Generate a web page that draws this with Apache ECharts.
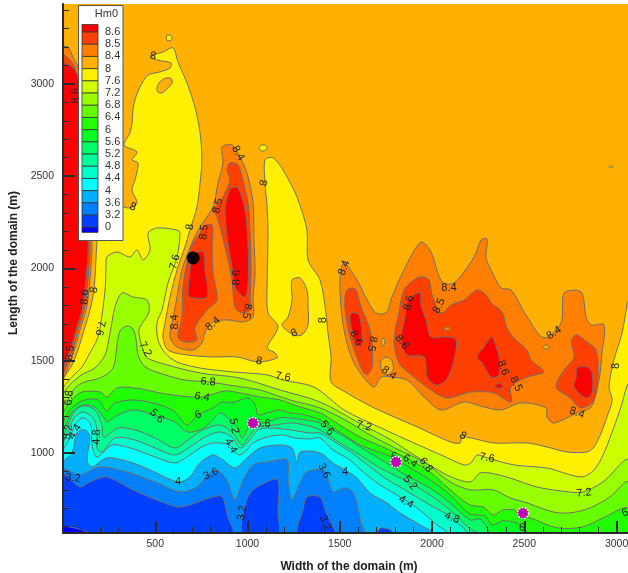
<!DOCTYPE html>
<html><head><meta charset="utf-8">
<style>html,body{margin:0;padding:0;background:#fff}#c{width:628px;height:573px}</style>
<script src="https://cdn.jsdelivr.net/npm/echarts@6/dist/echarts.min.js"></script>
</head><body><div id="c"></div>
<script>
// Value classes, top to bottom of the colour key
const keyTitle = 'Hm0';
const keyLabels = ['8.6','8.5','8.4','8','7.6','7.2','6.8','6.4','6','5.6','5.2','4.8','4.4','4','3.6','3.2','0'];
const keyColors = ['#FF0000','#FF4000','#FF7F00','#FFB000','#FFF000','#CCFF00','#99FF00','#66FF00','#22FF00','#00FF22','#00FF66','#00FF99','#00FFCC','#00FFFF','#00B0FF','#0080FF','#0040FF','#0000FF'];
const xTicks = [500,1000,1500,2000,2500,3000];
const yTicks = [1000,1500,2000,2500,3000];
const stations = [[1030,1162],[1805,951],[2493,674]];
const blackPoint = [[705,2057]];

// Contours in domain metres [width, length]
const below8 = [[3062,1813],[3030,1650],[2986,1504],[2959,1357],[2976,1287],[2948,1195],[2916,1108],[2878,1032],[2840,1005],[2732,1005],[2623,1032],[2515,1054],[2336,1054],[2211,1081],[2163,1086],[2152,1054],[2119,1054],[2049,1081],[1919,1141],[1794,1195],[1686,1244],[1604,1287],[1539,1325],[1453,1385],[1453,1520],[1436,1650],[1425,1759],[1393,1937],[1328,2046],[1322,2208],[1268,2387],[1192,2534],[1138,2599],[1095,2588],[1095,2463],[1106,2333],[1111,2192],[1106,1899],[1111,1759],[1165,1683],[1106,1569],[1149,1542],[1160,1515],[1057,1493],[943,1520],[813,1520],[672,1531],[569,1558],[542,1628],[553,1704],[580,1845],[618,1992],[661,2116],[688,2208],[726,2333],[743,2463],[753,2588],[743,2734],[715,2875],[672,3005],[623,3119],[596,3195],[542,3173],[482,3151],[509,3130],[585,3114],[580,3086],[526,3065],[461,3048],[417,2983],[390,2913],[379,2859],[374,2788],[363,2734],[331,2669],[401,2631],[374,2588],[407,2572],[390,2479],[374,2425],[401,2355],[363,2328],[325,2333],[255,2344],[201,2290],[184,2138],[168,1883],[146,1775],[114,1666],[81,1558],[49,1477],[0,1385],[0,566],[3062,566]];
const islandA8 = [[559,3249],[564,3262],[575,3265],[586,3262],[591,3249],[586,3236],[575,3233],[564,3236]];
const islandB8 = [[1062,2653],[1073,2667],[1090,2670],[1106,2660],[1100,2642],[1084,2636],[1068,2642]];
const islandC8 = [[2958,2550],[2970,2556],[2982,2550],[2970,2545]];
const holeA8 = [[509,2975],[520,3005],[553,3030],[585,3030],[591,3005],[565,2975],[535,2951],[515,2955]];
const holeB8 = [[1241,1937],[1285,1948],[1322,1883],[1328,1791],[1328,1694],[1295,1640],[1247,1640],[1187,1694],[1220,1737],[1241,1829]];
const below76 = [[0,1341],[49,1412],[103,1466],[146,1542],[184,1612],[201,1677],[228,1883],[233,2008],[238,2062],[293,2089],[363,2062],[401,2100],[434,2046],[472,2100],[461,2192],[509,2219],[618,2208],[634,2192],[618,2062],[569,1921],[537,1775],[509,1704],[515,1612],[553,1542],[618,1493],[743,1460],[921,1439],[1106,1423],[1192,1395],[1360,1357],[1523,1233],[1724,1135],[1902,1054],[2049,989],[2173,935],[2211,946],[2244,989],[2298,973],[2444,935],[2623,918],[2808,870],[2878,908],[2932,1000],[2986,1141],[3024,1249],[3062,1368],[3062,566],[0,566]];
const below72 = [[0,1309],[92,1417],[173,1460],[228,1531],[255,1650],[282,1791],[320,1867],[379,1845],[455,1829],[466,1764],[412,1666],[434,1558],[455,1515],[564,1477],[743,1433],[959,1406],[1176,1341],[1393,1276],[1626,1151],[1778,1070],[1902,989],[2081,880],[2206,843],[2260,891],[2314,891],[2423,864],[2569,815],[2748,788],[2818,788],[2927,843],[3062,962],[3062,566],[0,566]];
const below68 = [[0,1244],[33,1298],[65,1352],[119,1385],[201,1406],[271,1460],[293,1585],[309,1661],[347,1688],[379,1672],[396,1612],[407,1531],[445,1466],[553,1423],[661,1395],[786,1385],[932,1363],[1068,1341],[1230,1287],[1393,1244],[1528,1179],[1664,1097],[1799,1027],[1962,946],[2098,843],[2206,800],[2331,800],[2423,756],[2515,729],[2656,680],[2748,675],[2856,702],[2965,762],[3062,843],[3062,566],[0,566]];
const below64 = [[0,1206],[49,1287],[103,1330],[201,1330],[238,1303],[293,1352],[390,1352],[526,1325],[634,1309],[753,1303],[878,1336],[959,1325],[1068,1303],[1176,1287],[1285,1249],[1393,1217],[1501,1151],[1610,1086],[1745,1027],[1881,962],[1989,897],[2098,800],[2206,718],[2277,707],[2331,664],[2385,691],[2450,691],[2466,664],[2531,648],[2678,594],[2818,599],[2927,648],[3062,702],[3062,566],[0,566]];
const below60 = [[0,1151],[49,1244],[119,1287],[190,1287],[238,1227],[282,1271],[390,1287],[526,1260],[607,1222],[672,1151],[732,1206],[813,1244],[862,1276],[916,1271],[1003,1298],[1041,1260],[1057,1206],[1106,1217],[1176,1233],[1230,1217],[1312,1206],[1393,1179],[1501,1114],[1610,1043],[1783,978],[1881,919],[1989,854],[2098,772],[2206,669],[2287,658],[2325,610],[2385,632],[2461,621],[2488,599],[2515,566],[0,566]];
const below56 = [[0,1108],[27,1179],[60,1233],[114,1260],[173,1249],[222,1190],[238,1168],[298,1206],[390,1233],[509,1200],[607,1168],[672,1114],[743,1125],[797,1163],[851,1217],[894,1190],[943,1141],[970,1081],[1003,1141],[1014,1195],[1057,1168],[1095,1163],[1176,1190],[1230,1190],[1312,1179],[1393,1163],[1431,1141],[1528,1086],[1637,1016],[1745,951],[1854,881],[1989,810],[2098,729],[2206,637],[2260,642],[2298,593],[2304,566],[0,566]];
const below52 = [[0,1070],[27,1151],[60,1222],[108,1255],[173,1233],[211,1151],[222,1086],[298,1135],[390,1125],[499,1081],[607,1027],[678,1070],[759,1125],[851,1151],[921,1108],[970,1043],[1014,1097],[1057,1141],[1149,1151],[1230,1163],[1312,1151],[1393,1125],[1501,1054],[1610,989],[1718,919],[1881,838],[1989,772],[2098,691],[2206,588],[2244,566],[0,566]];
const below48 = [[0,1043],[27,1114],[60,1190],[108,1222],[163,1190],[184,1125],[184,1027],[211,1005],[282,1081],[390,1070],[499,1027],[607,989],[688,1032],[770,1086],[851,1114],[916,1086],[959,1027],[1003,1059],[1057,1125],[1122,1135],[1230,1125],[1339,1108],[1393,1108],[1474,1059],[1566,1000],[1637,946],[1745,864],[1854,799],[1989,718],[2108,648],[2179,566],[0,566]];
const below44 = [[0,1005],[38,1081],[65,1151],[108,1190],[152,1151],[157,1043],[184,978],[266,1043],[363,1027],[472,989],[607,946],[688,989],[743,1027],[813,1054],[905,1043],[948,989],[986,1005],[1030,1054],[1106,1086],[1192,1097],[1257,1081],[1339,1076],[1393,1081],[1463,1016],[1555,962],[1626,897],[1718,827],[1810,772],[1919,702],[2027,610],[2081,566],[0,566]];
const below40 = [[0,946],[49,1000],[76,1108],[119,1125],[146,1086],[130,962],[157,924],[238,973],[363,951],[472,908],[623,843],[688,870],[743,946],[813,989],[867,962],[932,919],[997,973],[1068,1027],[1176,1043],[1241,1027],[1268,946],[1285,1005],[1393,1000],[1463,946],[1528,908],[1593,864],[1664,783],[1756,729],[1827,675],[1935,610],[2005,566],[0,566]];
const below36 = [[0,908],[92,881],[201,924],[347,897],[509,838],[634,789],[726,816],[797,892],[851,897],[894,838],[932,745],[970,838],[1030,935],[1106,951],[1214,962],[1220,854],[1241,745],[1285,838],[1322,897],[1415,903],[1463,789],[1523,810],[1566,794],[1593,729],[1615,621],[1631,566],[0,566]];
const below32West = [[0,881],[92,816],[146,843],[238,870],[379,800],[509,745],[634,707],[813,762],[862,762],[894,653],[916,566],[0,566]];
const below32Mid = [[976,566],[970,637],[1014,783],[1106,843],[1165,854],[1165,675],[1165,566]];
const below32East = [[1274,566],[1301,691],[1322,761],[1393,761],[1420,691],[1458,610],[1474,566]];
const below32Far = [[1702,566],[1724,593],[1773,583],[1783,566]];
const below0 = [[0,599],[65,593],[136,566],[0,566]];

const strip84 = [[0,3200],[27,3200],[54,3146],[81,3086],[130,2600],[157,2138],[141,1883],[125,1775],[92,1666],[70,1585],[38,1493],[0,1412]];
const strip85 = [[0,3157],[27,3141],[65,3086],[110,2600],[146,2138],[130,1883],[114,1775],[81,1666],[60,1585],[27,1493],[0,1433]];
const strip86 = [[0,3103],[49,3092],[81,3038],[105,2600],[136,2138],[119,1883],[103,1775],[70,1666],[49,1585],[16,1504],[0,1460]];

const ridge84 = [[862,2659],[916,2669],[959,2604],[997,2517],[1030,2355],[1035,2154],[1041,1975],[1030,1845],[1030,1737],[976,1710],[894,1721],[813,1710],[770,1656],[753,1596],[705,1558],[618,1574],[580,1628],[591,1704],[618,1845],[645,1992],[699,2138],[743,2225],[813,2333],[840,2463],[867,2572]];
const ridgeEast85 = [[905,2572],[948,2561],[970,2496],[1003,2355],[1014,2192],[1019,1975],[1014,1845],[1014,1775],[970,1759],[932,1791],[916,1937],[878,2116],[835,2279],[813,2317],[867,2388],[905,2480],[889,2534]];
const ridgeEast86 = [[916,2436],[948,2436],[986,2317],[1003,2116],[1003,1921],[986,1845],[932,1899],[916,2008],[894,2138],[878,2317],[894,2398]];
const ridgeWest85 = [[759,2225],[808,2236],[808,2116],[813,1975],[835,1829],[781,1775],[715,1677],[726,1612],[661,1601],[623,1628],[645,1737],[650,1900],[672,2030],[705,2138],[743,2192]];
const ridgeWest86 = [[705,2073],[759,2089],[770,1992],[781,1845],[705,1840],[678,1856],[688,1975]];

const shoal84 = [[1523,2030],[1593,1937],[1648,1829],[1696,1759],[1751,1759],[1783,1845],[1848,1992],[1940,2143],[1994,2089],[2054,1927],[2119,1921],[2228,2062],[2266,2154],[2298,2160],[2293,2057],[2320,1992],[2374,1894],[2428,1883],[2515,1737],[2607,1623],[2699,1704],[2716,1867],[2808,1872],[2835,1737],[2862,1694],[2932,1694],[2921,1542],[2905,1395],[2862,1249],[2786,1217],[2661,1162],[2623,1195],[2618,1244],[2482,1271],[2374,1233],[2282,1249],[2173,1276],[2049,1233],[1957,1303],[1865,1395],[1783,1411],[1724,1411],[1686,1357],[1632,1406],[1577,1488],[1539,1596],[1512,1737],[1501,1937]];
const shoalHoleA = [[1724,1500],[1756,1520],[1783,1500],[1789,1450],[1762,1423],[1730,1434]];
const shoalHoleB = [[1725,1601],[1734,1625],[1745,1601],[1734,1577]];
const shoalHoleC = [[2601,1574],[2612,1585],[2630,1580],[2636,1568],[2618,1563]];
const shoalCentre85 = [[1940,1954],[1984,1937],[2000,1856],[2049,1759],[2103,1802],[2173,1829],[2244,1883],[2293,1856],[2320,1813],[2379,1764],[2406,1677],[2444,1623],[2515,1558],[2536,1504],[2607,1439],[2515,1411],[2428,1357],[2428,1276],[2336,1325],[2211,1330],[2081,1298],[1994,1341],[1902,1411],[1821,1488],[1794,1612],[1821,1759],[1848,1883],[1902,1937]];
const shoalCentreHole = [[2065,1672],[2076,1682],[2092,1682],[2098,1672],[2087,1664],[2070,1664]];
const shoalCentre86A = [[1902,1856],[1935,1867],[1940,1802],[1967,1721],[1994,1629],[2081,1629],[2130,1612],[2119,1504],[2076,1395],[2022,1368],[1973,1411],[1957,1520],[1865,1531],[1832,1612],[1854,1737],[1865,1813]];
const shoalCentre86B = [[2325,1629],[2347,1574],[2363,1520],[2363,1423],[2320,1411],[2271,1488],[2244,1520],[2282,1574]];
const shoalCentre86C = [[2341,1363],[2352,1374],[2374,1374],[2385,1363],[2374,1352],[2352,1352]];
const shoalWest85 = [[1561,1894],[1588,1883],[1615,1791],[1659,1683],[1675,1596],[1675,1466],[1648,1423],[1621,1450],[1588,1531],[1550,1650],[1528,1791],[1534,1873]];
const shoalWest86 = [[1566,1759],[1604,1748],[1621,1629],[1615,1575],[1588,1596],[1566,1666],[1555,1732]];
const shoalEast85 = [[2781,1640],[2840,1601],[2889,1558],[2900,1433],[2878,1287],[2808,1244],[2743,1303],[2672,1357],[2716,1450],[2770,1520],[2754,1601]];
const shoalEast86 = [[2786,1460],[2840,1466],[2867,1433],[2867,1325],[2835,1298],[2770,1357],[2781,1411]];

// Contour labels: text, width, length
const contourLabels = [['8',488,3151],['8.6',70,2935],['8',379,2333],['8.4',949,2625],['8',1090,2463],['8.5',840,2339],['8.5',764,2197],['8',688,2225],['7.6',607,2035],['8.6',943,1950],['8.4',607,1710],['8.4',813,1699],['8.5',997,1769],['8',1252,1650],['8',1062,1498],['7.2',445,1563],['7.6',201,1677],['8.5',38,1542],['6.8',33,1298],['6.8',786,1385],['7.6',1192,1412],['6.4',753,1303],['5.6',509,1200],['6',732,1206],['5.2',927,1146],['4.4',910,1038],['5.6',1084,1157],['4.8',184,1086],['4.4',65,1114],['5.2',27,1114],['3.2',54,864],['4',623,843],['3.6',802,886],['3.2',970,675],['3.6',1415,903],['4',1528,897],['3.2',1420,621],['7.2',1631,1146],['5.6',1431,1135],['6',1794,978],['6.4',1881,956],['6.8',1967,935],['5.2',1881,838],['4.4',1859,734],['4.8',2108,648],['8',2168,1092],['7.6',2298,973],['7.2',2824,783],['6',2488,593],['6',3046,675],['8.4',2786,1217],['8',2997,1471],['8.4',2661,1650],['8.5',2455,1374],['8.6',2385,1461],['8.5',2038,1797],['8.4',2092,1894],['8.6',1875,1813],['8.6',1837,1601],['8.4',1767,1433],['8.5',1675,1591],['8.6',1588,1623],['8.4',1523,2003],['8',1409,1720],['8.6',119,1845],['8',168,1883]];
const labelAngles = [-10,90,-20,-60,80,75,85,85,75,90,90,40,-100,20,-10,-60,-100,80,85,-5,-10,-10,-45,20,-80,-60,0,90,60,80,-5,0,25,80,-65,0,-70,-15,-50,0,-35,-55,-50,-30,-20,-30,-10,5,0,20,-20,90,35,-65,-70,65,0,75,-50,-35,-100,-65,70,90,85,80];

const layers = [
 [below8,4],[islandA8,4],[islandB8,4],[islandC8,4],[holeA8,3],[holeB8,3],
 [below76,5],[below72,6],[below68,7],[below64,8],[below60,9],[below56,10],[below52,11],[below48,12],[below44,13],[below40,14],[below36,15],
 [below32West,16],[below32Mid,16],[below32East,16],[below32Far,16],[below0,17],
 [strip84,2],[strip85,1],[strip86,0],
 [ridge84,2],[ridgeEast85,1],[ridgeEast86,0],[ridgeWest85,1],[ridgeWest86,0],
 [shoal84,2],[shoalHoleA,3],[shoalHoleB,3],[shoalHoleC,3],
 [shoalCentre85,1],[shoalCentreHole,2],[shoalCentre86A,0],[shoalCentre86B,0],[shoalCentre86C,0],
 [shoalWest85,1],[shoalWest86,0],[shoalEast85,1],[shoalEast86,0]
];

const majorX = xTicks, majorY = yTicks;
const minorX = [], minorY = [];
for (let v = 100; v <= 3000; v += 100) minorX.push(v);
for (let v = 600; v <= 3400; v += 100) minorY.push(v);

const AX = '#2a2a2a', TXT = '#333';
const FONT = '"Liberation Sans", Arial, sans-serif';

// colour key
const keyX = 82, keyW = 16, keyTop = 24.5, keyStep = 12.2;
const keyChildren = [
 {type:'rect',z:100,shape:{x:78.5,y:5.5,width:44.5,height:235},style:{fill:'#fff',stroke:'#555',lineWidth:1}},
 {type:'text',z:101,style:{x:118,y:14,text:keyTitle,align:'right',verticalAlign:'middle',font:'11px '+FONT,fill:TXT}}
];
keyColors.forEach((col,i)=>{
  const firstH = keyStep*0.62, y = i===0 ? keyTop : keyTop+firstH+(i-1)*keyStep;
  const h = i===0 ? firstH : (i===keyColors.length-1 ? keyStep*0.42 : keyStep);
  keyChildren.push({type:'rect',z:101,shape:{x:keyX,y:y,width:keyW,height:h},style:{fill:col,stroke:'#333',lineWidth:0.8}});
});
keyLabels.forEach((t,i)=>{
  keyChildren.push({type:'text',z:101,style:{x:105,y:keyTop+keyStep*0.62+i*keyStep,text:t,align:'left',verticalAlign:'middle',font:'11px '+FONT,fill:TXT}});
});

const chart = echarts.init(document.getElementById('c'),null,{renderer:'canvas'});
function axisBase(){return {type:'value',splitLine:{show:false}};}
const plain = v=>String(v);
chart.setOption({
  animation:false,
  backgroundColor:'#fff',
  grid:{left:63,right:0,top:4,bottom:40,show:true,backgroundColor:'#FFB000',borderWidth:0,outerBoundsMode:'none',containLabel:false},
  xAxis:[
   Object.assign(axisBase(),{min:0,max:3062,position:'bottom',
     name:'Width of the domain (m)',nameLocation:'middle',nameGap:28,
     nameTextStyle:{fontFamily:FONT,fontWeight:'bold',fontSize:12,color:'#222',padding:[0,0,0,7]},
     axisLine:{show:true,onZero:false,lineStyle:{color:AX,width:2}},
     axisTick:{show:true,inside:true,length:12,lineStyle:{color:AX,width:2},customValues:majorX},
     axisLabel:{show:true,margin:6,fontFamily:FONT,fontSize:10.5,color:TXT,customValues:majorX,formatter:plain},z:20}),
   Object.assign(axisBase(),{min:0,max:3062,position:'bottom',
     axisLine:{show:false,onZero:false},
     axisTick:{show:true,inside:true,length:6,lineStyle:{color:AX,width:1},customValues:minorX},
     axisLabel:{show:false},z:20})
  ],
  yAxis:[
   Object.assign(axisBase(),{min:566,max:3433,position:'left',
     name:'Length of the domain (m)',nameLocation:'middle',nameGap:41,nameRotate:90,
     nameTextStyle:{fontFamily:FONT,fontWeight:'bold',fontSize:12,color:'#222',padding:[0,0,0,11]},
     axisLine:{show:true,onZero:false,lineStyle:{color:AX,width:2}},
     axisTick:{show:true,inside:true,length:12,lineStyle:{color:AX,width:2},customValues:majorY},
     axisLabel:{show:true,margin:9,fontFamily:FONT,fontSize:10.5,color:TXT,customValues:majorY,formatter:plain},z:20}),
   Object.assign(axisBase(),{min:566,max:3433,position:'left',
     axisLine:{show:false,onZero:false},
     axisTick:{show:true,inside:true,length:6,lineStyle:{color:AX,width:1},customValues:minorY},
     axisLabel:{show:false},z:20})
  ],
  graphic:[{type:'group',silent:true,children:keyChildren}],
  series:[
   {type:'custom',xAxisIndex:0,yAxisIndex:0,clip:true,z:2,silent:true,
    data:layers.map((l,i)=>[i]),
    renderItem:function(params,api){
      const l = layers[params.dataIndex];
      return {type:'polygon',shape:{points:l[0].map(p=>api.coord(p)),smooth:0.3},
        style:{fill:keyColors[l[1]],stroke:'#6e6e6e',lineWidth:1,lineJoin:'round'}};
    }},
   {type:'custom',xAxisIndex:0,yAxisIndex:0,clip:true,z:3,silent:true,
    data:contourLabels.map((l,i)=>[l[1],l[2],i]),
    renderItem:function(params,api){
      const l = contourLabels[params.dataIndex];
      const p = api.coord([l[1],l[2]]);
      return {type:'text',x:p[0],y:p[1],rotation:labelAngles[params.dataIndex]*Math.PI/180,
        style:{text:l[0],align:'center',verticalAlign:'middle',font:'11px '+FONT,fill:'#222'}};
    }},
   {type:'scatter',xAxisIndex:0,yAxisIndex:0,z:5,silent:true,data:stations,symbol:'circle',symbolSize:11,
    itemStyle:{color:'#C000B0',borderColor:'#fff',borderWidth:1.5,borderType:'dotted',opacity:1}},
   {type:'scatter',xAxisIndex:0,yAxisIndex:0,z:5,silent:true,data:blackPoint,symbol:'circle',symbolSize:13,
    itemStyle:{color:'#000',opacity:1}}
  ]
});
</script></body></html>
